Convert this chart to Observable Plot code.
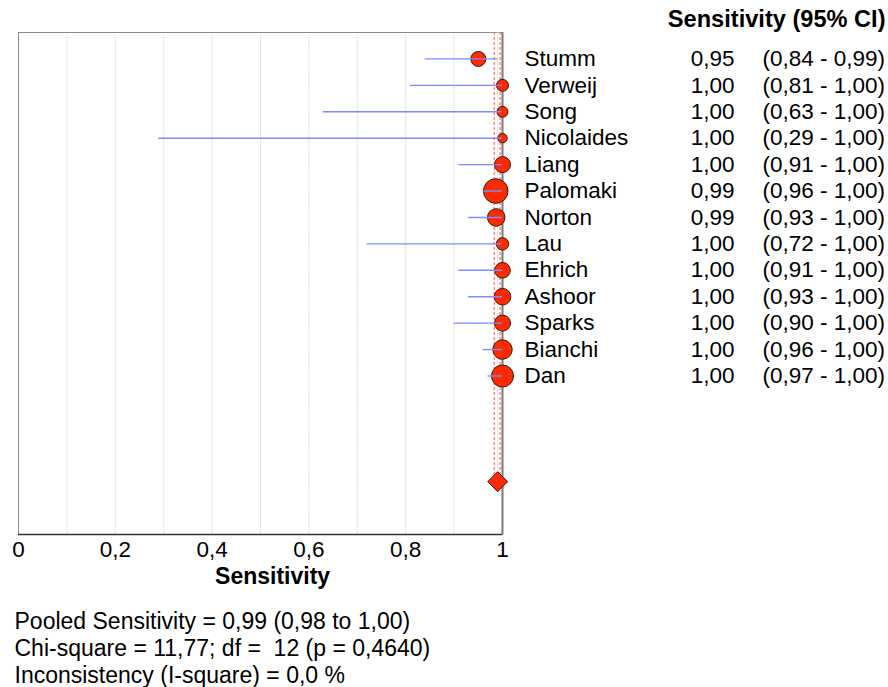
<!DOCTYPE html>
<html><head><meta charset="utf-8">
<script src="https://cdn.jsdelivr.net/npm/d3@7"></script>
<script src="https://cdn.jsdelivr.net/npm/@observablehq/plot@0.6"></script>
<style>body{margin:0;background:#fff} svg{display:block}</style>
</head><body><div id="chart"></div>
<script>
const studies = ["Stumm","Verweij","Song","Nicolaides","Liang","Palomaki","Norton","Lau","Ehrich","Ashoor","Sparks","Bianchi","Dan"];
const sensitivity = [0.95, 1.00, 1.00, 1.00, 1.00, 0.986, 0.987, 1.00, 1.00, 1.00, 1.00, 1.00, 1.00];
const ciLow = [0.84, 0.81, 0.63, 0.29, 0.91, 0.96, 0.93, 0.72, 0.91, 0.93, 0.90, 0.96, 0.97];
const ciHigh = [0.99, 1.00, 1.00, 1.00, 1.00, 1.00, 1.00, 1.00, 1.00, 1.00, 1.00, 1.00, 1.00];
const weights = [56, 36, 30, 22, 64, 151, 77, 38, 61, 69, 64, 94, 121];
const xTicks = [0, 0.2, 0.4, 0.6, 0.8, 1];
const gridTicks = [0.1, 0.2, 0.3, 0.4, 0.5, 0.6, 0.7, 0.8, 0.9];
const pooled = 0.99, pooledLow = 0.983, pooledHigh = 0.995;
const pooledRow = 16;
const headerText = "Sensitivity (95% CI)";
const axisLabel = "Sensitivity";
const statsLines = [
  "Pooled Sensitivity = 0,99 (0,98 to 1,00)",
  "Chi-square = 11,77; df =\u00A0 12 (p = 0,4640)",
  "Inconsistency (I-square) = 0,0 %"
];

const fmt = v => v.toFixed(2).replace(".", ",");
const data = studies.map((name, i) => ({name, row: i, sens: sensitivity[i], lo: ciLow[i], hi: ciHigh[i], w: weights[i]}));
const font = "'Liberation Sans', Arial, sans-serif";
const fs = 22.5;

const chart = Plot.plot({
  width: 888, height: 687,
  marginLeft: 18, marginRight: 386, marginTop: 32, marginBottom: 153,
  style: {fontFamily: font, fontSize: fs + "px", background: "#fff", overflow: "visible", color: "#000"},
  x: {domain: [0, 1]},
  y: {domain: [18, -1], axis: null},
  r: {type: "sqrt", domain: [0, 151], range: [0, 12.3]},
  marks: [
    Plot.ruleX(gridTicks, {stroke: "#c4c4c4", strokeDasharray: "1,1.5"}),
    Plot.frame({stroke: "#8c8c8c"}),
    Plot.ruleX([pooledLow, pooledHigh], {y1: -1, y2: pooledRow, stroke: "#ff7070", strokeWidth: 1.2, strokeDasharray: "3,2"}),
    Plot.ruleX([pooled], {y1: -1, y2: pooledRow, stroke: "#ffdcdc", strokeWidth: 1}),
    Plot.ruleX([1], {stroke: "#7a7a7a", strokeWidth: 2}),
    Plot.ruleY([18], {stroke: "#333", strokeWidth: 1.5}),
    Plot.axisX({ticks: xTicks, tickFormat: d => String(d).replace(".", ","), tickSize: 0, tickPadding: 7, fontSize: fs, label: null}),
    Plot.text([axisLabel], {x: 0.525, frameAnchor: "bottom", dy: 42, text: d => d, fontWeight: "bold", fontSize: 23, lineAnchor: "middle"}),
    Plot.dot(data, {x: "sens", y: "row", r: "w", fill: "#ff2a00", stroke: "#3a1a10", strokeWidth: 1}),
    Plot.ruleY(data, {y: "row", x1: "lo", x2: "hi", stroke: "#7b8dff", strokeWidth: 1.4}),
    Plot.dot([pooled], {x: d => d, y: () => pooledRow, symbol: "diamond2", r: 9, fill: "#ff2a00", stroke: "#3a1a10", strokeWidth: 1}),
    Plot.text(data, {x: () => 1, y: "row", text: "name", dx: 22, textAnchor: "start", fontSize: fs}),
    Plot.text(data, {x: () => 1, y: "row", text: d => fmt(d.sens), dx: 232, textAnchor: "end", fontSize: fs}),
    Plot.text(data, {x: () => 1, y: "row", text: d => `(${fmt(d.lo)} - ${fmt(d.hi)})`, dx: 260, textAnchor: "start", fontSize: fs}),
    Plot.text([headerText], {x: () => 1, frameAnchor: "top", text: d => d, dx: 383, dy: -13.5, textAnchor: "end", fontWeight: "bold", fontSize: 23.6, lineAnchor: "middle"}),
    Plot.text([statsLines.join("\n")], {frameAnchor: "bottom-left", text: d => d, dx: -4, dy: 113, textAnchor: "start", lineAnchor: "middle", lineHeight: 1.16, fontSize: 23})
  ]
});
document.getElementById("chart").append(chart);
</script>
</body></html>
